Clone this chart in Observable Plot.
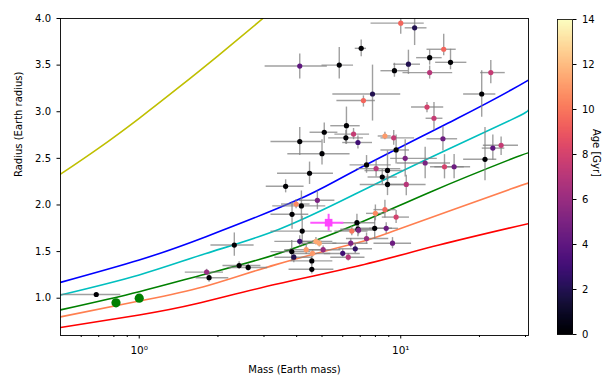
<!DOCTYPE html>
<html><head><meta charset="utf-8">
<script src="https://cdn.jsdelivr.net/npm/d3@7"></script>
<script src="https://cdn.jsdelivr.net/npm/@observablehq/plot@0.6"></script>
<style>
body{margin:0;background:#fff;font-family:"DejaVu Sans",sans-serif;}
#wrap{position:relative;width:615px;height:390px;overflow:hidden;}
#wrap svg{position:absolute;top:0;}
</style></head><body><div id="wrap"></div>
<script>
// ---- planets (Earth masses / Earth radii / Gyr) ----
const mass = [10.0,11.3,7.06,14.6,12.9,15.5,10.7,9.46,12.9,22.1,
  7.8,7.2,20.4,12.6,13.4,4.11,5.82,6.2,6.6,5.1,
  4.11,6.17,6.86,8.7,9.4,14.5,5.0,4.48,3.63,9.6,
  10.4,12.4,14.7,16.0,21.0,22.5,24.2,7.4,8.05,8.9,
  8.5,8.9,10.5,4.8,3.98,4.17,3.84,4.2,4.11,3.83,
  3.9,4.57,4.57,4.35,4.6,4.74,4.88,5.05,6.0,6.3,
  6.7,6.44,6.5,6.86,6.8,6.9,7.4,7.95,8.8,8.0,
  8.7,9.6,9.3,2.31,1.81,1.85,2.41,2.61,0.685];
const massLow = [7.7,10.4,6.7,12.6,11.5,13.6,9.4,8.4,10.2,20.2,
  5.5,5.7,17.4,11.0,12.5,3.03,5.0,5.4,5.6,4.5,
  3.19,5.3,6.0,8.2,8.4,12.6,3.7,3.38,3.06,8.4,
  9.15,9.7,13.0,13.5,17.4,20.5,20.7,6.4,6.8,7.3,
  7.5,7.0,8.8,4.1,3.5,3.24,3.19,3.19,3.3,3.19,
  3.3,3.8,3.74,3.6,3.9,4.1,4.2,4.3,5.1,5.4,
  5.8,5.5,5.6,5.9,5.9,6.0,6.2,6.8,7.6,7.4,
  7.9,8.5,7.9,1.88,1.5,1.65,2.09,2.2,0.45];
const massHigh = [12.3,12.6,7.4,16.3,14.4,17.9,11.9,10.7,15.8,25.1,
  10.0,8.0,23.1,14.6,14.5,5.24,6.6,7.0,7.6,5.75,
  5.0,7.2,7.8,9.2,11.3,16.5,6.4,5.53,4.27,10.8,
  13.8,15.5,17.5,18.5,23.3,25.0,28.2,9.2,10.0,10.2,
  9.7,10.6,12.5,5.6,4.5,5.17,4.45,5.47,5.0,4.53,
  4.6,5.5,5.55,5.2,5.4,5.5,5.7,5.9,7.0,7.3,
  7.8,7.5,7.5,8.1,8.0,8.0,9.0,9.3,9.8,8.7,
  9.6,10.8,11.0,2.75,2.1,2.2,2.92,3.1,0.85];
const radius = [3.95,3.90,3.68,3.67,3.58,3.53,3.51,3.44,3.42,3.42,
  3.19,3.12,3.19,3.05,2.93,3.49,3.50,2.85,2.76,2.78,
  2.68,2.72,2.67,2.74,2.72,2.71,2.55,2.34,2.20,2.59,
  2.50,2.45,2.41,2.41,2.49,2.61,2.64,2.43,2.39,2.37,
  2.30,2.22,2.22,2.05,2.01,1.99,1.90,1.72,1.61,1.50,
  1.44,1.40,1.31,1.52,1.48,1.61,1.59,1.52,1.48,1.44,
  1.53,1.59,1.72,1.74,1.81,1.73,1.64,1.75,1.75,1.91,
  1.95,1.87,1.59,1.57,1.28,1.22,1.35,1.33,1.04];
const radiusLow = [3.83,3.71,3.59,3.60,3.50,3.45,3.40,3.37,3.35,3.30,
  2.90,3.05,2.94,2.99,2.80,3.35,3.35,2.65,2.70,2.66,
  2.53,2.65,2.60,2.70,2.64,2.58,2.43,2.22,2.13,2.44,
  2.30,2.28,2.28,2.28,2.26,2.48,2.53,2.34,2.30,2.18,
  2.22,2.10,2.10,1.95,1.96,1.84,1.74,1.56,1.55,1.40,
  1.38,1.35,1.26,1.47,1.44,1.57,1.55,1.48,1.44,1.40,
  1.48,1.54,1.67,1.66,1.72,1.68,1.58,1.63,1.69,1.83,
  1.86,1.80,1.53,1.45,1.25,1.17,1.31,1.29,1.04];
const radiusHigh = [4.05,4.05,3.77,3.83,3.66,3.67,3.66,3.52,3.49,3.55,
  3.50,3.17,3.44,3.10,3.10,3.62,3.69,3.05,2.82,2.88,
  2.83,2.80,2.74,2.78,2.80,2.84,2.70,2.46,2.27,2.75,
  2.70,2.62,2.54,2.54,2.83,2.75,2.73,2.53,2.48,2.58,
  2.38,2.32,2.32,2.15,2.06,2.15,2.03,1.88,1.67,1.62,
  1.50,1.45,1.36,1.57,1.52,1.65,1.63,1.56,1.52,1.48,
  1.58,1.64,1.77,1.82,1.90,1.78,1.70,1.87,1.81,2.00,
  2.05,1.94,1.65,1.70,1.31,1.28,1.39,1.37,1.04];
const age = [9.5,2,0,9.5,0,0,2,0,7,7.5,
  2,9.5,0,8,7.5,4,0,0,7.5,0,
  0,0,3,11,7.5,4.5,0,0,0,0,
  5,5,8,4.5,0,4,7.5,0,7,0,
  0,0,7,5,10.5,0,0,0,3,0,
  2,0,0,11,11,11.5,11.5,6,3,7,
  2.5,5,10,0,0,5,6,0,4.5,10.5,
  9.5,8,4.5,0,6,0,0,0,0];

// highlighted planet (square)
const targetMass = [5.3], targetMassLow = [4.53], targetMassHigh = [6.06];
const targetRadius = [1.81], targetRadiusLow = [1.72], targetRadiusHigh = [1.90];

// Venus & Earth
const solarMass = [0.815, 1.0];
const solarRadius = [0.95, 1.0];

// composition curves
const curveNames = ["yellow","blue","cyan","green","orange","red"];
const curveMass = [
  [0.5,0.7,1.0,1.4,2.0,2.97],
  [0.5,1.0,1.8,4.0,6.7,16.5,26.3,30.8],
  [0.5,1.0,1.8,3.43,6.73,13.0,26.3,30.8],
  [0.5,1.0,1.8,3.33,6.73,13.0,26.3,30.8],
  [0.5,1.0,1.75,3.33,6.73,9.8,26.3,30.8],
  [0.5,1.0,1.65,3.33,6.73,14.0,30.8]
];
const curveRadius = [
  [2.33,2.61,2.93,3.25,3.60,4.0],
  [1.17,1.41,1.66,2.05,2.37,2.93,3.23,3.34],
  [1.035,1.25,1.48,1.74,2.12,2.51,2.91,3.02],
  [0.875,1.07,1.26,1.47,1.79,2.14,2.49,2.56],
  [0.80,0.97,1.12,1.36,1.59,1.74,2.17,2.23],
  [0.685,0.82,0.94,1.15,1.34,1.57,1.80]
];
const curveColor = {yellow:"#bfbf00", blue:"#0000ff", cyan:"#00bfbf", green:"#008000", orange:"#ff7f50", red:"#ff0000"};

// axis ticks
const xMajorTicks = [1, 10];
const xMajorLabels = ["10⁰", "10¹"];
const xMinorTicks = [0.6,0.7,0.8,0.9,2,3,4,5,6,7,8,9,20,30];
const yTicks = [1.0,1.5,2.0,2.5,3.0,3.5,4.0];
const ageTicks = [0,2,4,6,8,10,12,14];

// ---- build tables ----
const planets = mass.map((m,i)=>({m, mlo:massLow[i], mhi:massHigh[i], r:radius[i], rlo:radiusLow[i], rhi:radiusHigh[i], age:age[i]}));
const target = targetMass.map((m,i)=>({m, mlo:targetMassLow[i], mhi:targetMassHigh[i], r:targetRadius[i], rlo:targetRadiusLow[i], rhi:targetRadiusHigh[i]}));
const solar = solarMass.map((m,i)=>({m, r:solarRadius[i]}));
const curves = curveNames.flatMap((name,k)=>curveMass[k].map((m,j)=>({name, m, r:curveRadius[k][j]})));

const font = {fontFamily:"'DejaVu Sans', sans-serif", fontSize:"10px", color:"black", background:"transparent"};
const magma = {type:"linear", domain:[0,14], scheme:"magma"};

const main = Plot.plot({
  width: 615, height: 390,
  marginLeft: 60, marginRight: 87, marginTop: 18, marginBottom: 55,
  style: font,
  x: {type:"log", domain:[0.5, 30.8]},
  y: {domain:[0.6, 4.0]},
  color: magma,
  marks: [
    ...curveNames.map(n => Plot.line(curves.filter(d=>d.name===n), {x:"m", y:"r", stroke: curveColor[n], strokeWidth:1.6, curve:"natural", clip:true})),
    Plot.ruleY(planets, {y:"r", x1:"mlo", x2:"mhi", stroke:"#808080", strokeOpacity:0.75, strokeWidth:1.4, clip:true}),
    Plot.ruleX(planets, {x:"m", y1:"rlo", y2:"rhi", stroke:"#808080", strokeOpacity:0.75, strokeWidth:1.4, clip:true}),
    Plot.ruleY(target, {y:"r", x1:"mlo", x2:"mhi", stroke:"#ff55ff", strokeWidth:2}),
    Plot.ruleX(target, {x:"m", y1:"rlo", y2:"rhi", stroke:"#ff55ff", strokeWidth:2}),
    Plot.dot(planets, {x:"m", y:"r", r:2.6, fill:"age", stroke:null, clip:true}),
    Plot.dot(target, {x:"m", y:"r", symbol:"square", r:4.3, fill:"#ff44ff"}),
    Plot.dot(solar, {x:"m", y:"r", r:4.6, fill:"#008000"}),
    Plot.frame({stroke:"black", strokeWidth:0.9}),
    Plot.axisX({ticks: xMinorTicks, tickFormat: () => "", tickSize: 2, label: null}),
    Plot.axisX({ticks: xMajorTicks, tickFormat: d => xMajorLabels[xMajorTicks.indexOf(d)], tickSize: 3.5, tickPadding: 8, label: null, fontSize: 10.5}),
    Plot.axisY({ticks: yTicks, tickFormat: d3.format(".1f"), tickSize: 3.5, tickPadding: 6, label: null}),
    Plot.text(["Mass (Earth mass)"], {frameAnchor:"bottom", dy: 37, fontSize: 10}),
    Plot.text(["Radius (Earth radius)"], {frameAnchor:"left", dx: -42, rotate: -90, fontSize: 10})
  ]
});

// colorbar
const step = 14 / 315;
const stops = d3.range(0, 14, step);
const bar = Plot.plot({
  width: 58, height: 390,
  marginLeft: 0, marginRight: 43, marginTop: 19, marginBottom: 56,
  style: font,
  x: {domain:[0,1], axis:null},
  y: {domain:[0,14]},
  color: magma,
  marks: [
    Plot.rect(stops, {x1: () => 0, x2: () => 1, y1: d => d, y2: d => Math.min(14, d + step * 1.6),
      fill: d => d + step/2, stroke: d => d + step/2, strokeWidth: 0.6, shapeRendering: "crispEdges"}),
    Plot.frame({stroke:"black", strokeWidth:0.8}),
    Plot.axisY({anchor:"right", ticks: ageTicks, tickSize: 3.5, tickPadding: 6, label: null}),
    Plot.text(["Age [Gyr]"], {frameAnchor:"right", dx: 24, rotate: 90, fontSize: 10})
  ]
});

const wrap = document.getElementById("wrap");
main.style.left = "0px";
bar.style.left = "557px";
wrap.appendChild(main);
wrap.appendChild(bar);
</script>
</body></html>
